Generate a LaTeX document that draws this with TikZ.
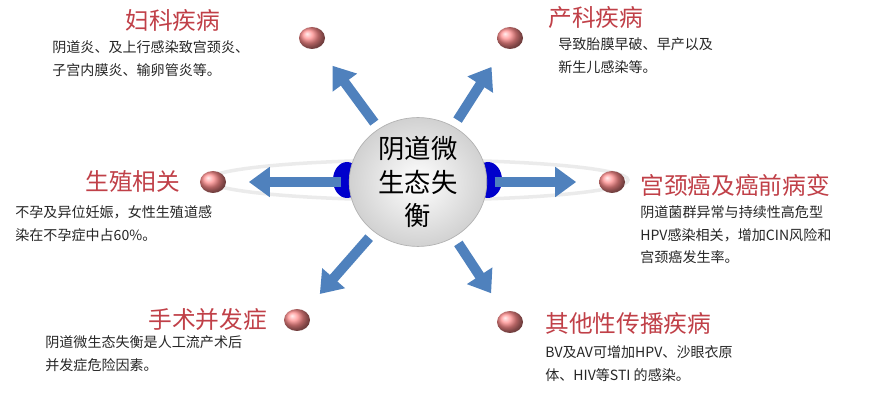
\documentclass[tikz,border=0pt]{standalone}
\usepackage{fontspec}
\setmainfont{Noto Sans CJK SC}
\usetikzlibrary{arrows.meta,shapes.geometric}
\definecolor{titlered}{RGB}{192,64,72}
\definecolor{arrowblue}{RGB}{79,129,189}
\begin{document}
\begin{tikzpicture}[x=0.02cm,y=-0.02cm]
    \tikzset{
        dot/.style   = {shape=ellipse, minimum width=0.52cm, minimum height=0.44cm,
                        inner sep=0pt, ball color=red!45!white, draw=none},
        title/.style = {anchor=west, text=titlered, font=\fontsize{13.5}{15}\selectfont, inner sep=0pt},
        body/.style  = {anchor=north west, align=left, text=black!85,
                        font=\fontsize{8}{13}\selectfont, inner sep=0pt},
        arr/.style   = {-{Triangle[width=0.58cm,length=0.42cm]}, line width=0.2cm,
                        arrowblue, shorten <=0.15cm, shorten >=0.45cm}
    }
    \useasboundingbox (0,0) rectangle (875,408);

    % faint ring
    \draw[black!8, line width=2pt] (418,180) ellipse (210 and 20);
    \fill[blue!80!black] (347,180) ellipse (14 and 18);
    \fill[blue!80!black] (488,180) ellipse (14 and 18);

    \node[shape=ellipse, minimum width=2.75cm, minimum height=2.4cm, inner sep=0pt, draw=black!30,
          inner color=white, outer color=black!18, align=center,
          font=\fontsize{15}{19}\selectfont] (ctr) at (418,182) {阴道微\\生态失\\衡};

    \node[dot] (gyn)  at (312,38)  {};
    \node[dot] (obs)  at (510,38)  {};
    \node[dot] (rep)  at (213,182) {};
    \node[dot] (cerv) at (612,182) {};
    \node[dot] (surg) at (297,320) {};
    \node[dot] (sti)  at (510,322) {};

    \foreach \t in {gyn,obs,rep,cerv,surg,sti}
        \draw[arr] (ctr) -- (\t);

    \node[title] (gynT)  at (125,20)  {妇科疾病};
    \node[body]  at (52,40)   {阴道炎、及上行感染致宫颈炎、\\子宫内膜炎、输卵管炎等。};
    \node[title] (obsT)  at (548,18)  {产科疾病};
    \node[body]  at (558,37)  {导致胎膜早破、早产以及\\新生儿感染等。};
    \node[title] (repT)  at (85,182)  {生殖相关};
    \node[body]  at (15,205)  {不孕及异位妊娠，女性生殖道感\\染在不孕症中占60\%。};
    \node[title] (cervT) at (640,185) {宫颈癌及癌前病变};
    \node[body]  at (640,205) {阴道菌群异常与持续性高危型\\HPV感染相关，增加CIN风险和\\宫颈癌发生率。};
    \node[title] (surgT) at (148,320) {手术并发症};
    \node[body]  at (45,335)  {阴道微生态失衡是人工流产术后\\并发症危险因素。};
    \node[title] (stiT)  at (545,323) {其他性传播疾病};
    \node[body]  at (545,345) {BV及AV可增加HPV、沙眼衣原\\体、HIV等STI 的感染。};
\end{tikzpicture}
\end{document}
